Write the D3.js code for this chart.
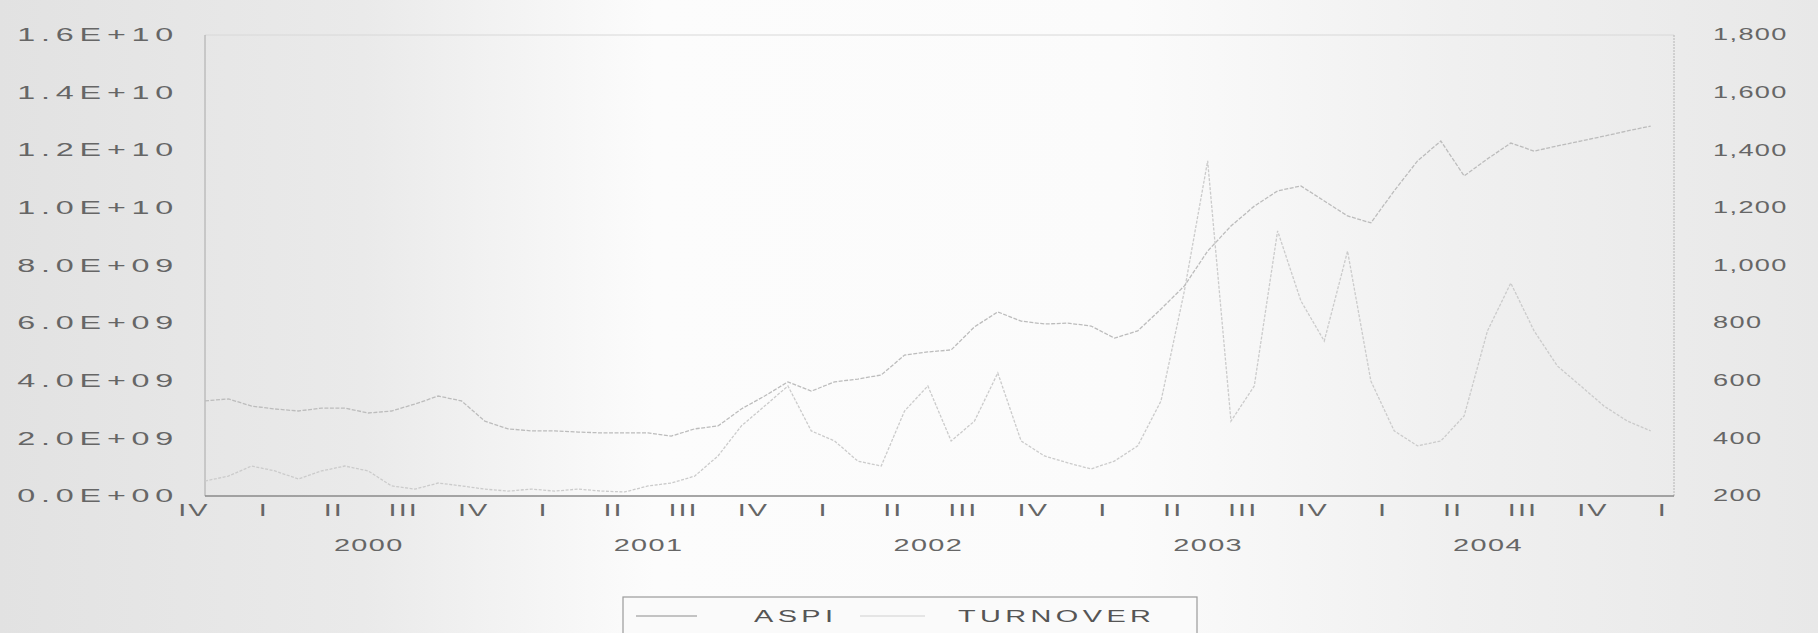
<!DOCTYPE html>
<html>
<head>
<meta charset="utf-8">
<script src="https://cdn.jsdelivr.net/npm/d3@7"></script>
<style>
    html, body { margin: 0; padding: 0; background: #fff; }
    svg { display: block; }
</style>
</head>
<body>
<svg id="chart" width="1818" height="633"></svg>
<script>
// ——— Data: monthly observations, first one is 1999M10 ———
const aspi = [
    530, 537, 512, 502, 495, 505, 505, 488, 495, 519, 547, 530,
    460, 433, 426, 426, 422, 419, 419, 419, 408, 433, 443, 502,
    547, 596, 564, 596, 606, 620, 689, 700, 707, 787, 839, 807,
    797, 800, 790, 748, 773, 849, 929, 1050, 1137, 1206, 1259, 1276,
    1224, 1172, 1148, 1259, 1363, 1432, 1311, 1370, 1425, 1397, 1415, 1432,
    1449, 1467, 1484
];
// turnover in billions
const turnover = [
    0.52, 0.69, 1.04, 0.87, 0.59, 0.87, 1.04, 0.87, 0.35, 0.24, 0.45, 0.35,
    0.24, 0.17, 0.24, 0.17, 0.24, 0.17, 0.14, 0.35, 0.45, 0.69, 1.39, 2.43,
    3.12, 3.82, 2.26, 1.91, 1.21, 1.04, 2.95, 3.82, 1.91, 2.60, 4.27, 1.91,
    1.39, 1.15, 0.94, 1.21, 1.74, 3.30, 7.11, 11.63, 2.60, 3.82, 9.20, 6.77,
    5.38, 8.50, 3.99, 2.26, 1.74, 1.91, 2.78, 5.73, 7.39, 5.73, 4.51, 3.82,
    3.12, 2.60, 2.26
];
const quarterLabels = ['IV', 'I', 'II', 'III', 'IV', 'I', 'II', 'III', 'IV', 'I', 'II',
    'III', 'IV', 'I', 'II', 'III', 'IV', 'I', 'II', 'III', 'IV', 'I'];
const yearLabels = ['2000', '2001', '2002', '2003', '2004'];
const leftTicks = [0, 2e9, 4e9, 6e9, 8e9, 1e10, 1.2e10, 1.4e10, 1.6e10];
const rightTicks = [200, 400, 600, 800, 1000, 1200, 1400, 1600, 1800];

// ——— Layout ———
const W = 1818, H = 633;
const plot = { left: 205, right: 1674, top: 35, bottom: 496 };
const SX = 1.7;           // the scanned figure is stretched sideways
const FONT = 'Liberation Sans, Arial, sans-serif';
const TEXT = '#666';

const svg = d3.select('#chart');

// ——— Paper-like background ———
const defs = svg.append('defs');
const bg = defs.append('linearGradient').attr('id', 'paper');
[[0, '#e2e2e2'], [0.2, '#eaeaea'], [0.36, '#fcfcfc'], [0.62, '#fbfbfb'],
 [0.8, '#f0f0f0'], [1, '#e8e8e8']].forEach(([o, c]) =>
    bg.append('stop').attr('offset', o).attr('stop-color', c));
svg.append('rect').attr('width', W).attr('height', H).attr('fill', 'url(#paper)');

// ——— Scales ———
const x = d3.scaleLinear().domain([0, 63]).range([plot.left, plot.right]);
const yL = d3.scaleLinear().domain([0, 1.6e10]).range([plot.bottom, plot.top]);
const yR = d3.scaleLinear().domain([200, 1800]).range([plot.bottom, plot.top]);

function stretchText(sel, dx, size, spacing) {
    sel.selectAll('text')
        .attr('x', 0)
        .attr('fill', TEXT)
        .attr('font-family', FONT)
        .attr('font-size', size)
        .attr('letter-spacing', spacing)
        .attr('transform', `translate(${dx},0) scale(${SX},1)`);
}

// ——— Axes ———
const sciFmt = d => d.toExponential(1).toUpperCase().replace(/E([+-])(\d)$/, 'E$10$2');

const gL = svg.append('g')
    .attr('transform', `translate(${plot.left},0)`)
    .call(d3.axisLeft(yL).tickValues(leftTicks).tickFormat(sciFmt).tickSize(0));
gL.select('.domain').remove();
stretchText(gL, -26, 19, 3.4);
gL.selectAll('text').attr('dy', '0.3em');

const gR = svg.append('g')
    .attr('transform', `translate(${plot.right},0)`)
    .call(d3.axisRight(yR).tickValues(rightTicks).tickFormat(d3.format(',')).tickSize(0));
gR.select('.domain').remove();
stretchText(gR, 39, 16, 0.8);
gR.selectAll('text').attr('dy', '0.3em');

// quarter labels sit half a month before the quarter's first month
const qPos = quarterLabels.map((d, i) => i * 3 - 0.5);
const gQ = svg.append('g')
    .attr('transform', `translate(0,${plot.bottom})`)
    .call(d3.axisBottom(x).tickValues(qPos).tickFormat((d, i) => quarterLabels[i]).tickSize(0));
gQ.select('.domain').remove();
stretchText(gQ, 0, 17, 1.2);
gQ.selectAll('text').attr('y', 8).attr('dy', '0.71em');

const yPos = yearLabels.map((d, i) => 7 + i * 12);
const gY = svg.append('g')
    .attr('transform', `translate(0,${plot.bottom})`)
    .call(d3.axisBottom(x).tickValues(yPos).tickFormat((d, i) => yearLabels[i]).tickSize(0));
gY.select('.domain').remove();
stretchText(gY, 0, 17, 0.8);
gY.selectAll('text').attr('y', 43).attr('dy', '0.71em');

// ——— Frame ———
const frame = svg.append('g').attr('fill', 'none');
frame.append('line').attr('x1', plot.left).attr('x2', plot.right)
    .attr('y1', plot.top).attr('y2', plot.top).attr('stroke', '#d8d8d8');
frame.append('line').attr('x1', plot.right).attr('x2', plot.right)
    .attr('y1', plot.top).attr('y2', plot.bottom).attr('stroke', '#b4b4b4')
    .attr('stroke-dasharray', '2,1');
frame.append('line').attr('x1', plot.left).attr('x2', plot.left)
    .attr('y1', plot.top).attr('y2', plot.bottom).attr('stroke', '#a8a8a8');
frame.append('line').attr('x1', plot.left).attr('x2', plot.right)
    .attr('y1', plot.bottom).attr('y2', plot.bottom).attr('stroke', '#8a8a8a').attr('stroke-width', 1.3);

// ——— Series ———
const lineT = d3.line().x((d, i) => x(i)).y(d => yL(d * 1e9));
const lineA = d3.line().x((d, i) => x(i)).y(d => yR(d));

svg.append('path').datum(turnover)
    .attr('d', lineT).attr('fill', 'none')
    .attr('stroke', '#cbcbcb').attr('stroke-width', 1.3)
    .attr('stroke-dasharray', '3,1.5');

svg.append('path').datum(aspi)
    .attr('d', lineA).attr('fill', 'none')
    .attr('stroke', '#bcbcbc').attr('stroke-width', 1.3)
    .attr('stroke-dasharray', '4,1.5');

// ——— Legend ———
const lg = svg.append('g');
lg.append('rect').attr('x', 623).attr('y', 597).attr('width', 574).attr('height', 50)
    .attr('fill', '#fafafa').attr('stroke', '#9a9a9a').attr('stroke-width', 1.2);
const legendItems = [
    { name: 'ASPI', x0: 636, x1: 697, tx: 754, color: '#b0b0b0' },
    { name: 'TURNOVER', x0: 860, x1: 925, tx: 958, color: '#dedede' }
];
legendItems.forEach(it => {
    lg.append('line').attr('x1', it.x0).attr('x2', it.x1).attr('y1', 616).attr('y2', 616)
        .attr('stroke', it.color).attr('stroke-width', 1.4);
    lg.append('text')
        .attr('transform', `translate(${it.tx},622) scale(${SX},1)`)
        .attr('fill', '#555').attr('font-family', FONT).attr('font-size', 17)
        .attr('letter-spacing', 2.6)
        .text(it.name);
});
</script>
</body>
</html>
